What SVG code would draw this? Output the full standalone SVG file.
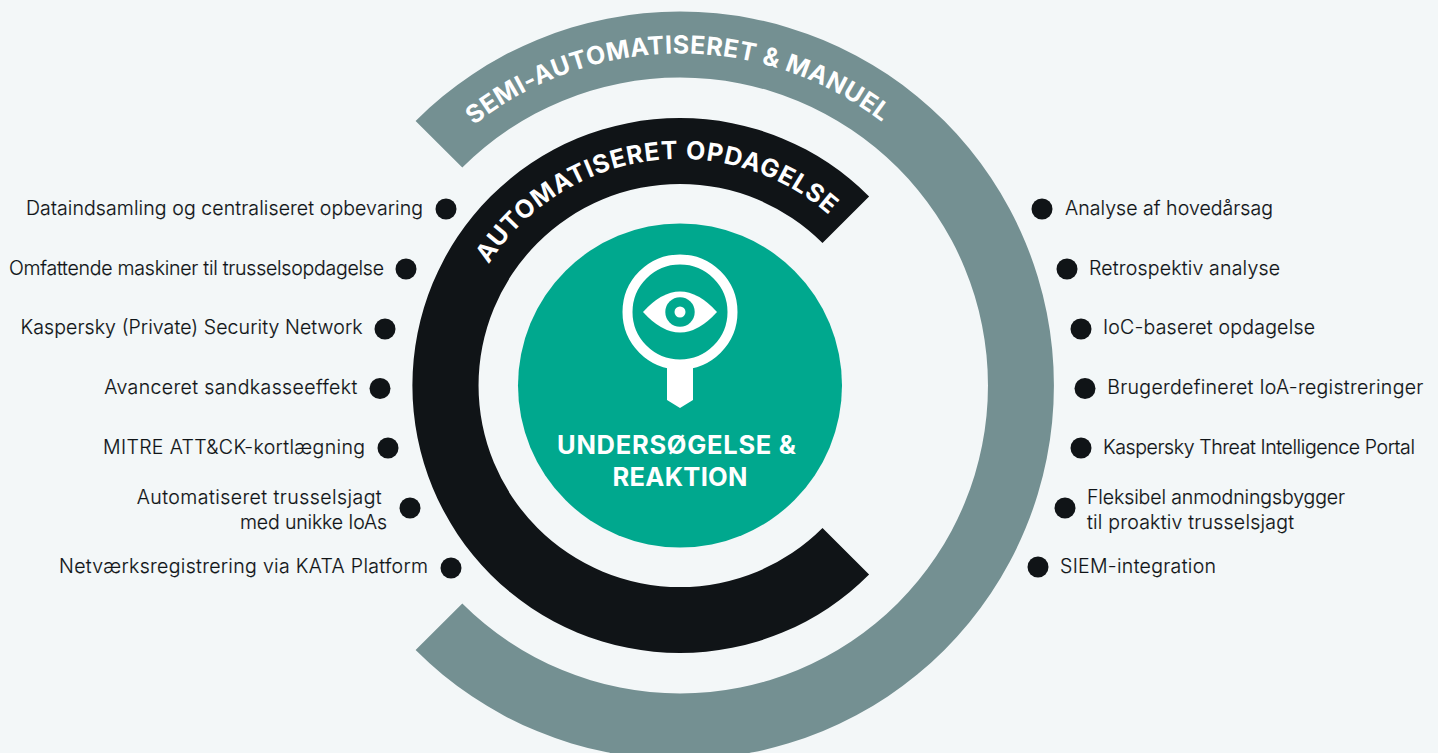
<svg xmlns="http://www.w3.org/2000/svg" width="1438" height="753" viewBox="0 0 1438 753">
<style>
.l{font:300 19.5px Inter,"Noto Sans",sans-serif;fill:#101417;stroke:#101417;stroke-width:.15}
.d{fill:#101417}
.h{font:700 25px Inter,"Liberation Sans",sans-serif;fill:#fff}
.c{font:700 25.5px Inter,"Liberation Sans",sans-serif;fill:#fff;text-anchor:middle}
</style>
<defs>
<path id="pg" d="M391.4 221.5A332 332 0 0 1 966.4 217.5"/>
<path id="pb" d="M458.3 339A226.5 226.5 0 0 1 879.7 278.7"/>
</defs>
<rect width="1438" height="753" fill="#f3f7f8"/>
<g id="ring-outer">
<path fill="#749092" d="M415.6 120.9A374 374 0 1 1 415.6 650.1L462.3 603.4A308 308 0 1 0 462.3 167.6Z"/>
<text class="h" letter-spacing=".55"><textPath href="#pg" startOffset="50%" text-anchor="middle">SEMI-AUTOMATISERET &amp; MANUEL</textPath></text>
</g>
<g id="ring-inner">
<path fill="#101417" d="M869.1 196.4A267.5 267.5 0 1 0 869.1 574.6L822.5 528A201.5 201.5 0 1 1 822.5 243Z"/>
<text class="h" letter-spacing=".9"><textPath href="#pb" startOffset="50%" text-anchor="middle">AUTOMATISERET OPDAGELSE</textPath></text>
</g>
<g id="center">
<circle cx="680" cy="385.5" r="162" fill="#00a88e"/>
<circle cx="680" cy="312" r="52.5" fill="none" stroke="#fff" stroke-width="10"/>
<path fill="#fff" d="M667 364H693V400L680 408L667 400Z"/>
<path fill="#fff" d="M643 312Q680 271 717 312Q680 353 643 312Z"/>
<circle cx="680" cy="312" r="14.7" fill="#00a88e"/>
<circle cx="680" cy="312" r="5.5" fill="#fff"/>
<text class="c" x="676.5" y="454" textLength="239">UNDERSØGELSE &amp;</text>
<text class="c" x="680" y="486" textLength="135">REAKTION</text>
</g>
<g id="left-items">
<g id="l1"><text class="l" x="26" y="215" textLength="397">Dataindsamling og centraliseret opbevaring</text><circle class="d" cx="446" cy="209" r="10.5"/></g>
<g id="l2"><text class="l" x="9" y="275" textLength="375">Omfattende maskiner til trusselsopdagelse</text><circle class="d" cx="406" cy="269" r="10.5"/></g>
<g id="l3"><text class="l" x="20.5" y="334" textLength="342">Kaspersky (Private) Security Network</text><circle class="d" cx="385" cy="329" r="10.5"/></g>
<g id="l4"><text class="l" x="104.3" y="394" textLength="253">Avanceret sandkasseeffekt</text><circle class="d" cx="380" cy="388.5" r="10.5"/></g>
<g id="l5"><text class="l" x="103" y="454" textLength="262">MITRE ATT&amp;CK-kortlægning</text><circle class="d" cx="388" cy="448" r="10.5"/></g>
<g id="l6"><text class="l" x="136.7" y="504" textLength="245">Automatiseret trusselsjagt</text><text class="l" x="240" y="529" textLength="147">med unikke IoAs</text><circle class="d" cx="410" cy="508" r="10.5"/></g>
<g id="l7"><text class="l" x="59" y="573" textLength="369">Netværksregistrering via KATA Platform</text><circle class="d" cx="451" cy="568" r="10.5"/></g>
</g>
<g id="right-items">
<g id="r1"><circle class="d" cx="1042" cy="209" r="10.5"/><text class="l" x="1065" y="215" textLength="208">Analyse af hovedårsag</text></g>
<g id="r2"><circle class="d" cx="1067" cy="269" r="10.5"/><text class="l" x="1089" y="275" textLength="191">Retrospektiv analyse</text></g>
<g id="r3"><circle class="d" cx="1081" cy="329" r="10.5"/><text class="l" x="1103" y="334" textLength="212">IoC-baseret opdagelse</text></g>
<g id="r4"><circle class="d" cx="1085" cy="388.5" r="10.5"/><text class="l" x="1107.3" y="394" textLength="316">Brugerdefineret IoA-registreringer</text></g>
<g id="r5"><circle class="d" cx="1081" cy="448" r="10.5"/><text class="l" x="1103" y="454" textLength="312">Kaspersky Threat Intelligence Portal</text></g>
<g id="r6"><circle class="d" cx="1065" cy="508" r="10.5"/><text class="l" x="1087" y="504" textLength="258">Fleksibel anmodningsbygger</text><text class="l" x="1087" y="529" textLength="207">til proaktiv trusselsjagt</text></g>
<g id="r7"><circle class="d" cx="1038" cy="567" r="10.5"/><text class="l" x="1060" y="573" textLength="156">SIEM-integration</text></g>
</g>
</svg>
